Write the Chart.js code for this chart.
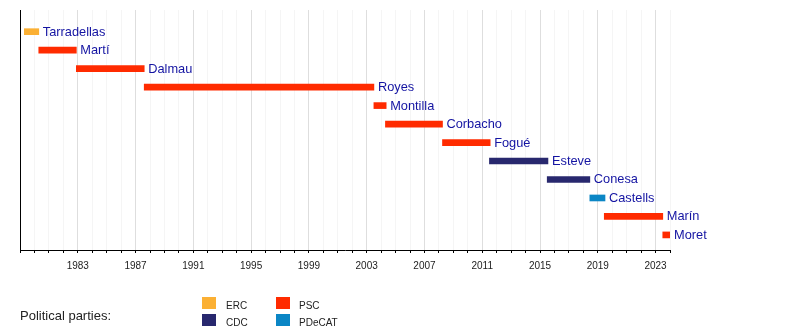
<!DOCTYPE html>
<html>
<head>
<meta charset="utf-8">
<script src="https://cdn.jsdelivr.net/npm/chart.js@4.4.1/dist/chart.umd.min.js"></script>
<style>
    body { margin: 0; background: #fff; font-family: "Liberation Sans", Arial, sans-serif; }
    #wrap { position: relative; width: 800px; height: 330px; }
    #chart { position: absolute; left: 0; top: 0; }
    .legend-title { position: absolute; left: 20px; top: 308px; font-size: 13px; line-height: 15px; color: #222; }
    .legend-box { position: absolute; width: 14px; height: 12px; }
    .legend-text { position: absolute; font-size: 10px; line-height: 12px; color: #222; }
</style>
</head>
<body>
<div id="wrap">
    <canvas id="chart" width="800" height="330"></canvas>
    <div class="legend-title">Political parties:</div>
    <div id="legend"></div>
</div>
<script>
// --- DATA ---
const presidents = ['Tarradellas', 'Martí', 'Dalmau', 'Royes', 'Montilla', 'Corbacho', 'Fogué', 'Esteve', 'Conesa', 'Castells', 'Marín', 'Moret'];
const termStart = [1979.3, 1980.3, 1982.9, 1987.6, 2003.5, 2004.3, 2008.25, 2011.5, 2015.5, 2018.45, 2019.45, 2023.5];
const termEnd = [1980.3, 1982.9, 1987.6, 2003.5, 2004.35, 2008.25, 2011.55, 2015.55, 2018.45, 2019.5, 2023.5, 2024];
const termParty = ['ERC', 'PSC', 'PSC', 'PSC', 'PSC', 'PSC', 'PSC', 'CDC', 'CDC', 'PDeCAT', 'PSC', 'PSC'];
const parties = ['ERC', 'CDC', 'PSC', 'PDeCAT'];
const partyColors = ['#fbb034', '#28286e', '#ff2b00', '#0b86c5'];
const labelYears = [1983, 1987, 1991, 1995, 1999, 2003, 2007, 2011, 2015, 2019, 2023];
const axisMin = 1979, axisMax = 2024;

const colorOf = (party) => partyColors[parties.indexOf(party)];

// --- LEGEND (two columns, two rows) ---
const legendEl = document.getElementById('legend');
parties.forEach((p, i) => {
    const col = Math.floor(i / 2), row = i % 2;
    const box = document.createElement('div');
    box.className = 'legend-box';
    box.style.left = (202 + col * 74) + 'px';
    box.style.top = (297 + row * 17) + 'px';
    box.style.background = partyColors[i];
    const txt = document.createElement('div');
    txt.className = 'legend-text';
    txt.style.left = (226 + col * 73) + 'px';
    txt.style.top = (299.5 + row * 17) + 'px';
    txt.textContent = p;
    legendEl.appendChild(box); legendEl.appendChild(txt);
});

// name labels to the right of each bar
const nameLabels = {
    id: 'nameLabels',
    afterDatasetsDraw(chart) {
        const { ctx } = chart;
        const meta = chart.getDatasetMeta(0);
        ctx.save();
        ctx.font = '12.8px "Liberation Sans", Arial, sans-serif';
        ctx.fillStyle = '#1414a2';
        ctx.textBaseline = 'alphabetic';
        meta.data.forEach((bar, i) => ctx.fillText(presidents[i], Math.max(bar.x, bar.base) + 4, bar.y + 4));
        ctx.restore();
    }
};

Chart.defaults.font.family = '"Liberation Sans", Arial, sans-serif';

new Chart(document.getElementById('chart'), {
    type: 'bar',
    data: {
        datasets: [{
            data: presidents.map((n, i) => ({ x: [termStart[i], termEnd[i]], y: i })),
            backgroundColor: termParty.map(colorOf),
            barThickness: 6,
            borderWidth: 0
        }]
    },
    options: {
        responsive: false, animation: false, indexAxis: 'y',
        layout: { padding: { left: 20, right: 130, top: 10, bottom: 0 } },
        scales: {
            x: {
                type: 'linear', min: axisMin, max: axisMax,
                ticks: {
                    stepSize: 1, autoSkip: false, maxRotation: 0, padding: 7, color: '#222',
                    font: { size: 10 },
                    callback: (v) => labelYears.includes(v) ? String(v) : ''
                },
                grid: {
                    color: (c) => c.tick && labelYears.includes(c.tick.value) ? '#dedede' : '#f5f5f5',
                    tickColor: '#000', tickLength: 3
                },
                border: { color: '#000', width: 1 },
                afterFit: (s) => { s.height = 80; }
            },
            y: {
                type: 'linear', reverse: true, offset: false, min: -1.174, max: 11.816,
                ticks: { display: false },
                grid: { display: false },
                border: { display: true, color: '#000', width: 1 },
                afterFit: (s) => { s.width = 0; }
            }
        },
        plugins: { legend: { display: false }, tooltip: { enabled: false } }
    },
    plugins: [nameLabels]
});
</script>
</body>
</html>
